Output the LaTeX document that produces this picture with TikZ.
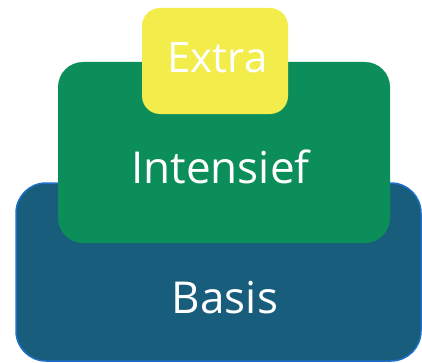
\documentclass[tikz,border=0pt]{standalone}
\usepackage{fontspec}
\setmainfont{Open Sans}
\usepackage{xcolor}
\usetikzlibrary{positioning}

\definecolor{basisblue}{RGB}{25,93,124}
\definecolor{basisrand}{RGB}{30,112,200}
\definecolor{intgreen}{RGB}{12,142,90}
\definecolor{extrayellow}{RGB}{242,237,74}

\tikzset{
  laag/.style={anchor=south west, inner sep=0pt, outer sep=0pt},
  laagtekst/.style={anchor=base, inner sep=0pt, text=white, font=\fontsize{44}{44}\selectfont}
}

\begin{document}
\begin{tikzpicture}[x=1pt, y=1pt]
  \useasboundingbox (0,0) rectangle (422,362);
  % Basis
  \node[laag, fill=basisblue, draw=basisrand, line width=1.5pt, rounded corners=30,
        minimum width=405pt, minimum height=178pt] (basis) at (16,1) {};
  \node[laagtekst] (basistekst) at (225,49) {Basis};
  % Intensief
  \node[laag, fill=intgreen, rounded corners=25,
        minimum width=332pt, minimum height=181pt] (intensief) at (58,119) {};
  \node[laagtekst] (intensieftekst) at (220.5,179) {Intensief};
  % Extra
  \node[laag, fill=extrayellow, rounded corners=18,
        minimum width=146pt, minimum height=106pt] (extra) at (142,248) {};
  \node[laagtekst, font=\fontsize{42}{42}\selectfont] (extratekst) at (217.5,289) {Extra};
\end{tikzpicture}
\end{document}
